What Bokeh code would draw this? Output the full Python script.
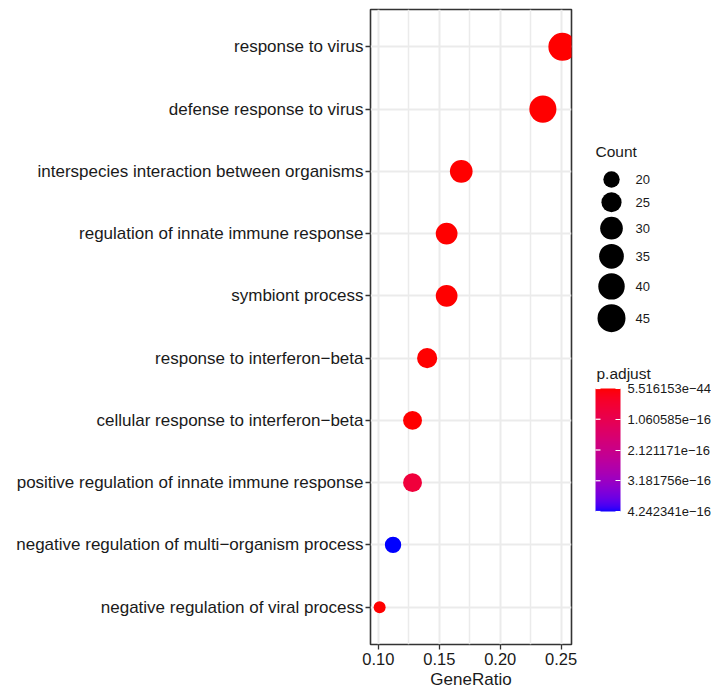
import numpy as np
from bokeh.plotting import figure
from bokeh.models import (ColumnDataSource, Range1d, FixedTicker, NumeralTickFormatter,
                          LinearColorMapper, ColorBar)
from bokeh.layouts import row
from bokeh.embed import file_html
from bokeh.resources import INLINE
from bokeh.core.properties import value

# ---------------- data (top to bottom) ----------------
terms = [
    "response to virus",
    "defense response to virus",
    "interspecies interaction between organisms",
    "regulation of innate immune response",
    "symbiont process",
    "response to interferon\u2212beta",
    "cellular response to interferon\u2212beta",
    "positive regulation of innate immune response",
    "negative regulation of multi\u2212organism process",
    "negative regulation of viral process",
]
gene_ratio = [0.251, 0.235, 0.168, 0.156, 0.156, 0.140, 0.128, 0.128, 0.112, 0.101]
counts = [45, 42, 30, 28, 28, 25, 23, 23, 20, 18]
p_adjust = [5.516153e-44, 2.1e-40, 3.5e-26, 1.2e-23, 1.2e-23, 4.0e-29, 2.5e-27,
            7.0e-17, 4.2423412e-16, 1.5e-20]

x_ticks = [0.10, 0.15, 0.20, 0.25]
legend_counts = [20, 25, 30, 35, 40, 45]

# ---------------- styling helpers ----------------
FONT = "Liberation Sans"
TXT = "#1a1a1a"
D_MIN, D_MAX = 12.0, 28.0


def _lin(c):
    c = c / 255.0
    return np.where(c <= 0.04045, c / 12.92, ((c + 0.055) / 1.055) ** 2.4)


def _to_lab(rgb):
    r, g, b = _lin(np.array(rgb, dtype=float))
    X = (0.4124 * r + 0.3576 * g + 0.1805 * b) / 0.95047
    Y = (0.2126 * r + 0.7152 * g + 0.0722 * b)
    Z = (0.0193 * r + 0.1192 * g + 0.9505 * b) / 1.08883
    f = lambda t: np.where(t > 0.008856, np.cbrt(t), 7.787 * t + 16 / 116)
    fx, fy, fz = f(X), f(Y), f(Z)
    return np.array([116 * fy - 16, 500 * (fx - fy), 200 * (fy - fz)])


def _from_lab(lab):
    L, a, b = lab
    fy = (L + 16) / 116
    fx = fy + a / 500
    fz = fy - b / 200
    finv = lambda t: t ** 3 if t ** 3 > 0.008856 else (t - 16 / 116) / 7.787
    X, Y, Z = finv(fx) * 0.95047, finv(fy), finv(fz) * 1.08883
    r = 3.2406 * X - 1.5372 * Y - 0.4986 * Z
    g = -0.9689 * X + 1.8758 * Y + 0.0415 * Z
    bb = 0.0557 * X - 0.2040 * Y + 1.0570 * Z
    out = []
    for c in (r, g, bb):
        c = min(max(c, 0.0), 1.0)
        c = 12.92 * c if c <= 0.0031308 else 1.055 * c ** (1 / 2.4) - 0.055
        out.append(int(round(min(max(c, 0), 1) * 255)))
    return "#%02x%02x%02x" % tuple(out)


lab_lo, lab_hi = _to_lab((255, 0, 0)), _to_lab((0, 0, 255))
palette = [_from_lab(lab_lo + (lab_hi - lab_lo) * t) for t in np.linspace(0, 1, 256)]

cmin, cmax = min(counts), max(counts)


def diam(c):
    c = np.asarray(c, dtype=float)
    return D_MIN + (D_MAX - D_MIN) * np.sqrt((c - cmin) / (cmax - cmin))


n = len(terms)
ypos = [n - i for i in range(n)]
pmin, pmax = min(p_adjust), max(p_adjust)

src = ColumnDataSource(dict(x=gene_ratio, y=ypos, term=terms, count=counts,
                            padj=p_adjust, size=diam(counts)))

span = max(gene_ratio) - min(gene_ratio)
xlo, xhi = min(gene_ratio) - 0.05 * span, max(gene_ratio) + 0.05 * span

# ---------------- layout constants ----------------
H = 692
TOP, BOTTOM = 9, 48
FRAME_H = H - TOP - BOTTOM

# ---------------- main panel ----------------
p = figure(width=579, height=H, x_range=Range1d(xlo, xhi), y_range=Range1d(0.4, n + 0.6),
           output_backend="svg", toolbar_location=None,
           min_border_left=370, min_border_right=8, min_border_top=TOP, min_border_bottom=BOTTOM)
p.background_fill_color = "white"
p.border_fill_color = "white"
p.outline_line_color = "#333333"
p.outline_line_width = 1.6

mapper = LinearColorMapper(palette=palette, low=pmin, high=pmax)
p.scatter("x", "y", source=src, size="size",
          fill_color={"field": "padj", "transform": mapper}, line_color=None)

minor = [(a + b) / 2 for a, b in zip(x_ticks[:-1], x_ticks[1:])]
p.xaxis.ticker = FixedTicker(ticks=x_ticks, minor_ticks=minor)
p.xaxis.formatter = NumeralTickFormatter(format="0.00")
p.yaxis.ticker = FixedTicker(ticks=ypos)
p.yaxis.major_label_overrides = {int(y): t for y, t in zip(ypos, terms)}

for ax in (p.xaxis[0], p.yaxis[0]):
    ax.axis_line_color = None
    ax.major_tick_line_color = "#333333"
    ax.major_tick_line_width = 1.3
    ax.major_tick_in = 0
    ax.major_tick_out = 5
    ax.minor_tick_line_color = None
    ax.major_label_text_font = FONT
    ax.major_label_text_color = TXT

p.yaxis.major_label_text_font_size = "17px"
p.yaxis.major_label_standoff = 2
p.xaxis.major_label_text_font_size = "16.5px"
p.xaxis.major_label_standoff = 3
p.xaxis.axis_label = "GeneRatio"
p.xaxis.axis_label_text_font = FONT
p.xaxis.axis_label_text_font_size = "17px"
p.xaxis.axis_label_text_font_style = "normal"
p.xaxis.axis_label_text_color = TXT
p.xaxis.axis_label_standoff = 2

p.xgrid.grid_line_color = "#EBEBEB"
p.xgrid.grid_line_width = 2
p.xgrid.minor_grid_line_color = "#EBEBEB"
p.xgrid.minor_grid_line_width = 1.5
p.ygrid.grid_line_color = "#EBEBEB"
p.ygrid.grid_line_width = 2

# ---------------- legends (coordinates = px from frame top-left) ----------------
LW = 132
q = figure(width=LW, height=H, x_range=Range1d(0, LW), y_range=Range1d(FRAME_H, 0),
           x_axis_location=None, y_axis_location=None, min_border_left=0, min_border_right=0,
           min_border_top=TOP, min_border_bottom=BOTTOM,
           output_backend="svg", toolbar_location=None)
q.outline_line_color = None
q.grid.visible = False
q.background_fill_color = "white"
q.border_fill_color = "white"

TITLE_X, COUNT_TITLE_Y = 16, 142
KEY_X, LABEL_X, FIRST_KEY_Y, KEY_PAD = 32, 56, 170, 4.5
CB_LEFT, CB_W, CB_H, CB_BOTTOM_FROM_FRAME_BOTTOM = 16, 25, 123, 133
PADJ_TITLE_Y = 364

q.text(x=[TITLE_X], y=[COUNT_TITLE_Y], text=["Count"], text_baseline="middle",
       text_align="left", text_font=value(FONT), text_font_size="15.5px", text_color=TXT)

ld = diam(legend_counts)
ky = [FIRST_KEY_Y]
for i in range(1, len(ld)):
    ky.append(ky[-1] + (ld[i - 1] + ld[i]) / 2 + KEY_PAD)
lsrc = ColumnDataSource(dict(x=[KEY_X] * len(ld), y=ky, size=ld,
                             lab=[str(c) for c in legend_counts], lx=[LABEL_X] * len(ld)))
q.scatter("x", "y", size="size", source=lsrc, fill_color="black", line_color=None)
q.text("lx", "y", text="lab", source=lsrc, text_baseline="middle", text_align="left",
       text_font=value(FONT), text_font_size="13px", text_color=TXT)

# colour bar (red = smallest p.adjust at top)
q.text(x=[TITLE_X + 1], y=[PADJ_TITLE_Y], text=["p.adjust"], text_baseline="middle",
       text_align="left", text_font=value(FONT), text_font_size="15.5px", text_color=TXT)
vals = [pmin + k * (pmax - pmin) / 4 for k in range(5)]          # top -> bottom
cb_labels = [("%.6e" % v).replace("-", "\u2212") for v in vals]
cb_mapper = LinearColorMapper(palette=palette[::-1], low=0, high=4)
cb = ColorBar(color_mapper=cb_mapper, orientation="vertical", width=CB_W, height=CB_H,
              location=(CB_LEFT, CB_BOTTOM_FROM_FRAME_BOTTOM), padding=0, margin=0,
              ticker=FixedTicker(ticks=[0, 1, 2, 3, 4]),
              major_label_overrides={4 - k: cb_labels[k] for k in range(5)},
              major_label_text_font=FONT, major_label_text_font_size="13px",
              major_label_text_color=TXT, label_standoff=7,
              major_tick_line_color="white", major_tick_line_width=1.2,
              major_tick_in=5, major_tick_out=0,
              minor_tick_line_color=None, bar_line_color=None, border_line_color=None,
              background_fill_color=None)
q.add_layout(cb, "center")

# white tick marks on the left edge of the bar (ggplot draws them on both edges)
cb_top = FRAME_H - CB_BOTTOM_FROM_FRAME_BOTTOM - CB_H
tick_y = [cb_top + k * CB_H / 4 for k in range(5)]
q.segment(x0=[CB_LEFT] * 5, x1=[CB_LEFT + 5] * 5, y0=tick_y, y1=tick_y,
          line_color="white", line_width=1.2, level="overlay")

layout = row(p, q)
open("out.html", "w").write(file_html(layout, INLINE))
